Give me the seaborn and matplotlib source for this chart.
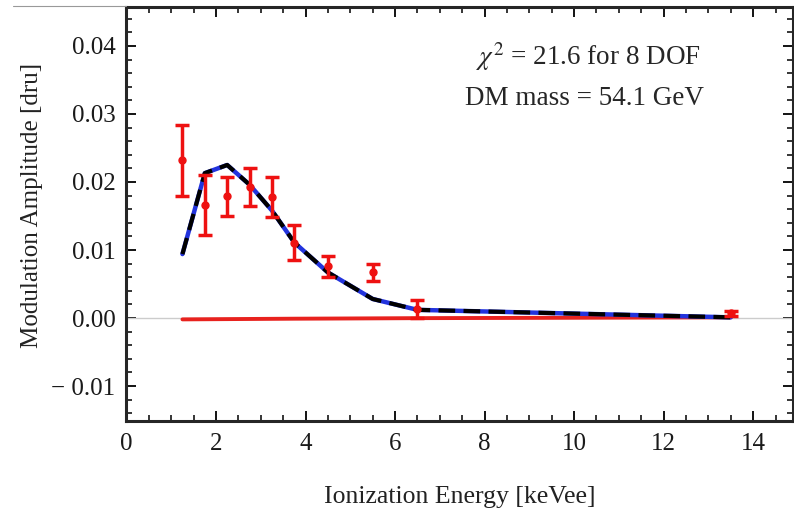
import numpy as np
import pandas as pd
import matplotlib
matplotlib.use("Agg")
import matplotlib.pyplot as plt
from matplotlib.lines import Line2D
from matplotlib.ticker import MultipleLocator
import seaborn as sns

# Data
energy = [1.25, 1.75, 2.25, 2.75, 3.25, 3.75, 4.5, 5.5, 6.5, 13.5]
amplitude = [0.0232, 0.0166, 0.0179, 0.0192, 0.0178, 0.0111, 0.0076, 0.0067, 0.0013, 0.0007]
amp_err = [0.0052, 0.0044, 0.0029, 0.0028, 0.0029, 0.0026, 0.0015, 0.0013, 0.0013, 0.0004]
dm_model = [0.0094, 0.0213, 0.0225, 0.0196, 0.0158, 0.0111, 0.0067, 0.0028, 0.0012, 0.0001]
flat_model = [-0.0002, -0.00018, -0.00016, -0.00014, -0.00012, -0.0001, -0.00008, -0.00005, -0.00002, 0.0001]

df = pd.DataFrame({"energy": energy, "amp": amplitude, "err": amp_err,
                   "dm": dm_model, "flat": flat_model})

sns.set_style("ticks")
plt.rcParams["font.family"] = ["Liberation Serif", "DejaVu Serif"]
plt.rcParams["mathtext.fontset"] = "stix"

fig = plt.figure(figsize=(7.94, 5.08), dpi=100)
ax = fig.add_axes([0.1593, 0.1718, 0.8400, 0.8154])

ax.axhline(0, color="#cccccc", lw=1.0, zorder=1)

sns.lineplot(data=df, x="energy", y="flat", ax=ax, color="#e8221e", lw=2.8, zorder=2)
sns.lineplot(data=df, x="energy", y="dm", ax=ax, color="#2233dd", lw=3.2, zorder=3)
sns.lineplot(data=df, x="energy", y="dm", ax=ax, color="black", lw=3.0,
             dashes=False, zorder=4).lines[-1].set_dashes([4, 2])

ax.errorbar(df["energy"], df["amp"], yerr=df["err"], fmt="o", color="#ee1111",
            ms=5, elinewidth=2.5, capsize=5, capthick=2.5, zorder=5)

ax.set_xlim(0, 14.9)
ax.set_ylim(-0.0151, 0.0458)
ax.xaxis.set_major_locator(MultipleLocator(2))
ax.xaxis.set_minor_locator(MultipleLocator(0.5))
ax.yaxis.set_major_locator(MultipleLocator(0.01))
ax.yaxis.set_minor_locator(MultipleLocator(0.002))
ax.yaxis.set_major_formatter(matplotlib.ticker.FuncFormatter(
    lambda v, p: f"{v:.2f}".replace("-", "\u2212 ")))

ax.tick_params(which="both", direction="in", top=True, right=True,
               labelsize=18, colors="black", labelcolor="#1a1a1a")
ax.tick_params(axis="x", pad=9)
ax.tick_params(axis="y", pad=8)
ax.tick_params(which="major", length=7, width=1.3)
ax.tick_params(which="minor", length=4, width=1.1)
for s in ax.spines.values():
    s.set_linewidth(2.2)
    s.set_visible(True)

ax.set_xlabel("Ionization Energy [keVee]", fontsize=18.5, color="#222222", labelpad=22)
ax.set_ylabel("Modulation Amplitude [dru]", fontsize=18, color="#222222")
ax.yaxis.set_label_coords(-0.125, 0.52)

ax.text(0.693, 0.878, r"$\chi^2$ = 21.6 for 8 DOF", transform=ax.transAxes,
        ha="center", va="center", fontsize=19.5)
ax.text(0.687, 0.777, "DM mass = 54.1 GeV", transform=ax.transAxes,
        ha="center", va="center", fontsize=19.5)

# thin border left over from the screenshot crop
fig.add_artist(Line2D([13 / 794, 126 / 794], [1 - 6 / 508, 1 - 6 / 508],
                      transform=fig.transFigure, color="#999999", lw=0.8))

fig.savefig("out.png", dpi=100)
